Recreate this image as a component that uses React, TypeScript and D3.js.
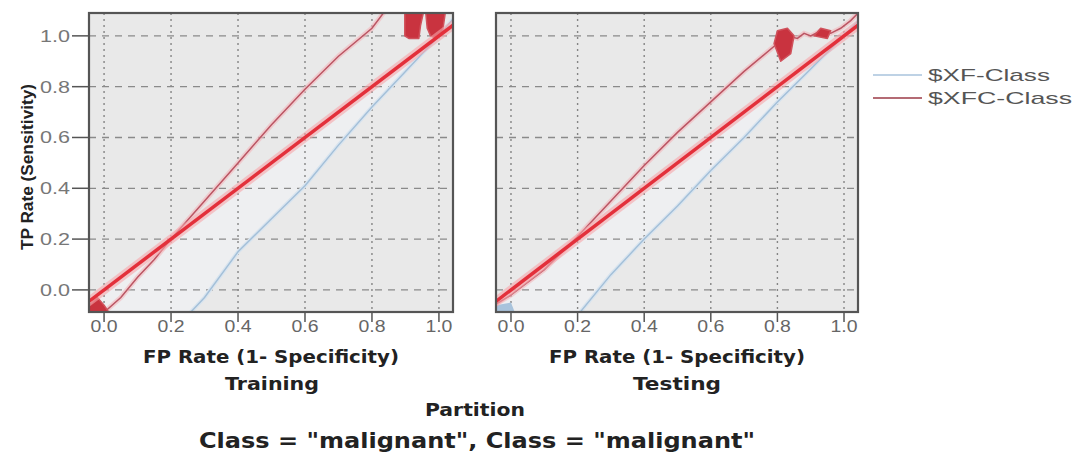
import React from "react";
import * as d3 from "d3";

type Pt = [number, number];

// axis ticks
const xTicks = [0, 0.2, 0.4, 0.6, 0.8, 1.0];
const yTicks = [0, 0.2, 0.4, 0.6, 0.8, 1.0];
const partitions = ["Training", "Testing"];
const seriesNames = ["$XF-Class", "$XFC-Class"];

// reference diagonal
const diagonal: Pt[] = [[-0.1, -0.1], [1.1, 1.1]];

// Training partition
const trainXFC: Pt[] = [[-0.01, -0.1], [0.05, -0.03], [0.1, 0.05], [0.15, 0.12], [0.2, 0.2], [0.3, 0.35], [0.4, 0.5], [0.5, 0.65], [0.6, 0.79], [0.7, 0.92], [0.8, 1.03], [0.84, 1.1]];
const trainXF: Pt[] = [[0.25, -0.1], [0.3, -0.03], [0.4, 0.15], [0.5, 0.28], [0.6, 0.41], [0.7, 0.57], [0.8, 0.72], [0.9, 0.86], [1.0, 1.0], [1.05, 1.08]];
const trainBlobs: Pt[][] = [
  [[0.898, 1.1], [0.898, 1.0], [0.91, 0.99], [0.94, 0.99], [0.945, 1.04], [0.955, 1.1]],
  [[0.96, 1.1], [0.965, 1.03], [0.975, 1.0], [0.99, 0.99], [1.01, 1.01], [1.02, 1.1]],
  [[-0.045, -0.1], [-0.045, -0.06], [-0.02, -0.03], [0.0, -0.06], [0.02, -0.1]],
];
const trainPatches: Pt[][] = [];

// Testing partition
const testXFC: Pt[] = [[-0.05, -0.06], [0.0, -0.02], [0.1, 0.08], [0.2, 0.21], [0.3, 0.35], [0.4, 0.49], [0.5, 0.62], [0.6, 0.74], [0.7, 0.86], [0.8, 0.97], [0.83, 1.0], [0.86, 0.99], [0.88, 1.01], [0.9, 1.0], [0.93, 1.02], [0.96, 1.01], [0.99, 1.03], [1.02, 1.06], [1.05, 1.1]];
const testXF: Pt[] = [[0.2, -0.1], [0.3, 0.06], [0.4, 0.2], [0.5, 0.33], [0.6, 0.47], [0.7, 0.6], [0.8, 0.74], [0.9, 0.87], [1.0, 1.0], [1.05, 1.07]];
const testBlobs: Pt[][] = [
  [[0.79, 0.97], [0.8, 1.02], [0.83, 1.03], [0.85, 1.0], [0.84, 0.93], [0.81, 0.9]],
  [[0.91, 1.0], [0.93, 1.03], [0.96, 1.02], [0.95, 0.99]],
];
const testPatches: Pt[][] = [
  [[-0.045, -0.1], [-0.045, -0.06], [0.0, -0.05], [0.015, -0.1]],
];

const panelData = [
  { xfc: trainXFC, xf: trainXF, blobs: trainBlobs, patches: trainPatches },
  { xfc: testXFC, xf: testXF, blobs: testBlobs, patches: testPatches },
];

const W = 1075;
const H = 459;
const top = 13;
const bottom = 312;
const panelX = [
  [89, 453],
  [496, 858],
];
const xDomain: Pt = [-0.045, 1.042];
const yDomain: Pt = [-0.087, 1.09];

const bold = "'DejaVu Sans', Verdana, sans-serif";
const sans = "'Liberation Sans', Arial, sans-serif";

const Panel: React.FC<{ idx: number }> = ({ idx }) => {
  const [x0, x1] = panelX[idx];
  const d = panelData[idx];
  const x = d3.scaleLinear().domain(xDomain).range([x0, x1]);
  const y = d3.scaleLinear().domain(yDomain).range([bottom, top]);
  const line = d3.line<Pt>().x(p => x(p[0])).y(p => y(p[1]));
  const poly = (pts: Pt[]) => line(pts) + "Z";
  const clipId = `clip-${idx}`;
  const cx = (x0 + x1) / 2;

  // light area between the XF line and the diagonal
  const band = d3
    .area<Pt>()
    .x(p => x(p[0]))
    .y0(p => y(p[0]))
    .y1(p => y(p[1]));
  const bandPts: Pt[] = [[-0.1, -0.1], ...d.xf];

  return (
    <g>
      <defs>
        <clipPath id={clipId}>
          <rect x={x0} y={top} width={x1 - x0} height={bottom - top} />
        </clipPath>
      </defs>
      <rect x={x0} y={top} width={x1 - x0} height={bottom - top} fill="#e9e9e9" />
      <g clipPath={`url(#${clipId})`}>
        <path d={band(bandPts) || ""} fill="#eff1f4" opacity={0.7} />
      </g>
      {/* grid */}
      {xTicks.map(t => (
        <line key={"vx" + t} x1={x(t)} x2={x(t)} y1={top} y2={bottom} stroke="#858585" strokeWidth={1.4} strokeDasharray="2,4" />
      ))}
      {yTicks.map(t => (
        <line key={"hy" + t} x1={x0} x2={x1} y1={y(t)} y2={y(t)} stroke="#8a8a8a" strokeWidth={1.3} strokeDasharray="7,6" />
      ))}
      <g clipPath={`url(#${clipId})`}>
        {d.patches.map((p, i) => (
          <path key={"p" + i} d={poly(p)} fill="#a9c3dc" />
        ))}
        <path d={line(d.xf) || ""} fill="none" stroke="#d8e4ef" strokeWidth={4} />
        <path d={line(d.xf) || ""} fill="none" stroke="#a3bfd8" strokeWidth={1.4} />
        <path d={line(d.xfc) || ""} fill="none" stroke="#f3b8bd" strokeWidth={5} opacity={0.6} />
        <path d={line(d.xfc) || ""} fill="none" stroke="#bb5563" strokeWidth={1.5} />
        {d.blobs.map((p, i) => (
          <path key={"b" + i} d={poly(p)} fill="#c9333f" stroke="#d0525c" strokeWidth={1.5} strokeLinejoin="round" />
        ))}
        <path d={line(diagonal) || ""} fill="none" stroke="#f6a5aa" strokeWidth={9} opacity={0.6} />
        <path d={line(diagonal) || ""} fill="none" stroke="#e3303b" strokeWidth={3.5} />
      </g>
      <rect x={x0} y={top} width={x1 - x0} height={bottom - top} fill="none" stroke="#555" strokeWidth={2.2} />
      {/* x axis */}
      {xTicks.map(t => (
        <g key={"xt" + t}>
          <line x1={x(t)} x2={x(t)} y1={bottom} y2={bottom + 10} stroke="#555" strokeWidth={1.5} />
          <text x={x(t)} y={332} textAnchor="middle" fontFamily={sans} fontSize={16} fill="#666" textLength={27} lengthAdjust="spacingAndGlyphs">
            {t.toFixed(1)}
          </text>
        </g>
      ))}
      {idx === 0 &&
        yTicks.map(t => (
          <g key={"yt" + t}>
            <line x1={72} x2={x0} y1={y(t)} y2={y(t)} stroke="#555" strokeWidth={1.5} />
            <text x={40} y={y(t) + 6} fontFamily={sans} fontSize={17} fill="#777" textLength={30} lengthAdjust="spacingAndGlyphs">
              {t.toFixed(1)}
            </text>
          </g>
        ))}
      <text x={cx - 128} y={363} fontFamily={bold} fontWeight="bold" fontSize={17} fill="#222" textLength={256} lengthAdjust="spacingAndGlyphs">
        FP Rate (1- Specificity)
      </text>
      <text x={cx - (idx === 0 ? 46 : 44)} y={390} fontFamily={bold} fontWeight="bold" fontSize={17} fill="#222" textLength={idx === 0 ? 94 : 88} lengthAdjust="spacingAndGlyphs">
        {partitions[idx]}
      </text>
    </g>
  );
};

const App: React.FC = () => {
  return (
    <svg width={W} height={H} style={{ position: "absolute", left: 0, top: 0, background: "#fff" }}>
      <Panel idx={0} />
      <Panel idx={1} />
      <text transform="translate(33,250) rotate(-90)" fontFamily={sans} fontWeight="bold" fontSize={16} fill="#222" textLength={166} lengthAdjust="spacingAndGlyphs">
        TP Rate (Sensitivity)
      </text>
      <text x={425} y={416} fontFamily={bold} fontWeight="bold" fontSize={17} fill="#222" textLength={100} lengthAdjust="spacingAndGlyphs">
        Partition
      </text>
      <text x={199} y={448} fontFamily={bold} fontWeight="bold" fontSize={22} fill="#222" textLength={556} lengthAdjust="spacingAndGlyphs">
        Class = "malignant", Class = "malignant"
      </text>
      {/* legend */}
      {seriesNames.map((s, i) => (
        <g key={s}>
          <line x1={873} x2={922} y1={75 + i * 23} y2={75 + i * 23} stroke={i === 0 ? "#a9c3dc" : "#9b3a46"} strokeWidth={1.4} />
          <text x={928} y={75 + i * 23 + 6} fontFamily={sans} fontSize={17} fill="#555" textLength={i === 0 ? 122 : 144} lengthAdjust="spacingAndGlyphs">
            {s}
          </text>
        </g>
      ))}
    </svg>
  );
};

export default App;
